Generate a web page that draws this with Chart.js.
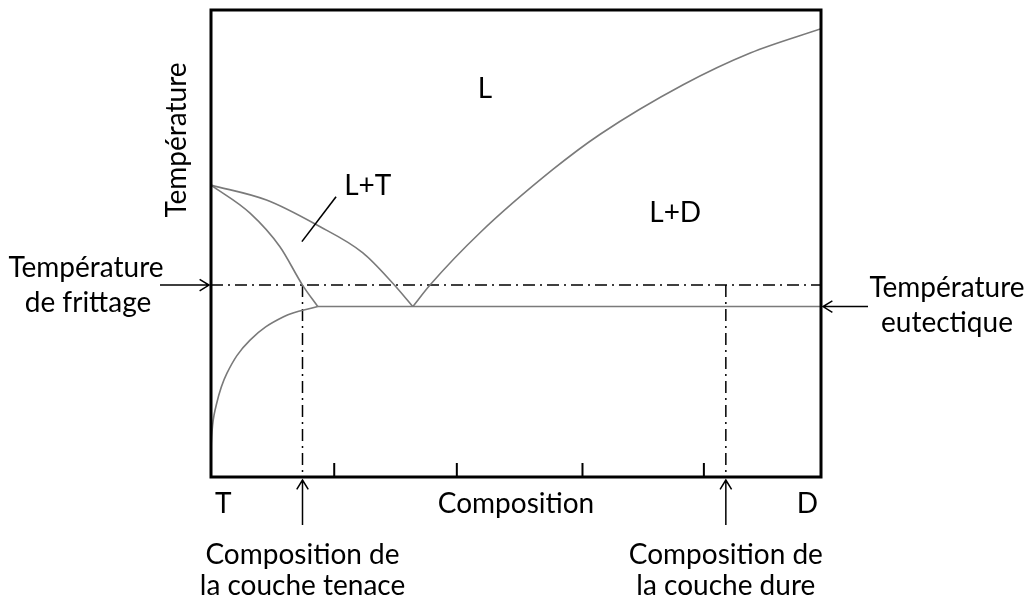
<!DOCTYPE html>
<html>
<head>
<meta charset="utf-8">
<script src="https://cdn.jsdelivr.net/npm/chart.js@4.4.0/dist/chart.umd.min.js"></script>
<style>
  body { margin: 0; background: #fff; }
  #wrap { width: 1028px; height: 604px; position: relative; }
</style>
</head>
<body>
<div id="wrap"><canvas id="diagram"></canvas></div>
<script>
// composition (0 = T, 100 = D) / temperature (0..100, arbitrary units)
const sinterTemp = 41.1
const eutecticTemp = 36.5
const eutecticComp = 33.1
const solidusEnd = 17.5
const toughComp = 15.0
const hardComp = 84.4
const tickComps = [20.2, 40.3, 60.9, 80.8]

const liquidusT = [[0, 62.5], [9.1, 59.3], [17.3, 54.0], [24.9, 48.0], [29.8, 41.5], [33.1, 36.5]]
const solidusT = [[0, 62.5], [6.4, 56.5], [11.3, 49.3], [15.0, 41.1], [17.5, 36.5]]
const solvusT = [[17.5, 36.5], [11.9, 34.3], [6.4, 29.3], [2.6, 22.2], [0.66, 14.3], [0.1, 8.6], [0, 4.1]]
const liquidusD = [[33.1, 36.5], [35.9, 41.1], [44.1, 52.3], [56.1, 65.9], [63.8, 73.4], [77.4, 84.0], [88.4, 90.8], [100, 96.0]]

const FONT = '28px Lato, "Open Sans", sans-serif'
const GREY = '#7a7a7a'
const DASHDOT = [12, 5, 2, 5]

const pts = arr => arr.map(p => ({x: p[0], y: p[1]}))

const curve = (arr, mono) => ({
    data: pts(arr),
    borderColor: GREY,
    borderWidth: 1.6,
    tension: 0.4,
    cubicInterpolationMode: mono ? 'monotone' : 'default',
    pointRadius: 0
})

const straight = (arr, color, dash, width) => ({
    data: pts(arr),
    borderColor: color,
    borderWidth: width || 1.5,
    borderDash: dash || [],
    tension: 0,
    pointRadius: 0
})

const datasets = [
    curve(liquidusT, true),
    curve(solidusT, true),
    curve(solvusT, false),
    curve(liquidusD, true),
    straight([[solidusEnd, eutecticTemp], [100, eutecticTemp]], GREY, [], 1.6),
    straight([[0, sinterTemp], [100, sinterTemp]], '#000', DASHDOT),
    straight([[toughComp, sinterTemp], [toughComp, 0]], '#000', DASHDOT),
    straight([[hardComp, sinterTemp], [hardComp, 0]], '#000', DASHDOT)
]
// small ticks on the composition axis
tickComps.forEach(c => datasets.push(straight([[c, 0], [c, 3]], '#000', [], 2)))

/*ARROWS*/
function arrow(ctx, x1, y1, x2, y2){
    const a = Math.atan2(y2 - y1, x2 - x1), L = 11, s = 0.55
    ctx.beginPath()
    ctx.moveTo(x1, y1); ctx.lineTo(x2, y2)
    ctx.moveTo(x2 - L * Math.cos(a - s), y2 - L * Math.sin(a - s))
    ctx.lineTo(x2, y2)
    ctx.lineTo(x2 - L * Math.cos(a + s), y2 - L * Math.sin(a + s))
    ctx.stroke()
}

const decor = {
    id: 'decor',
    afterDraw(chart){
        const ctx = chart.ctx, ca = chart.chartArea
        const xs = chart.scales.x, ys = chart.scales.y
        ctx.save()
        // frame
        ctx.strokeStyle = '#000'
        ctx.lineWidth = 3
        ctx.strokeRect(ca.left, ca.top, ca.right - ca.left, ca.bottom - ca.top)

        ctx.fillStyle = '#000'
        ctx.font = FONT
        ctx.textBaseline = 'alphabetic'

        // phase labels
        ctx.textAlign = 'center'
        ctx.fillText('L', xs.getPixelForValue(44.9), 98)
        ctx.fillText('L+T', xs.getPixelForValue(25.7), 195)
        ctx.fillText('L+D', xs.getPixelForValue(76.1), 222)

        // leader line for L+T
        ctx.lineWidth = 1.6
        ctx.beginPath()
        ctx.moveTo(xs.getPixelForValue(14.9), ys.getPixelForValue(50.4))
        ctx.lineTo(xs.getPixelForValue(20.5), ys.getPixelForValue(60.0))
        ctx.stroke()

        // axis texts
        const base = ca.bottom + 36
        ctx.textAlign = 'left'
        ctx.fillText('T', ca.left + 4, base)
        ctx.textAlign = 'right'
        ctx.fillText('D', ca.right - 3, base)
        ctx.textAlign = 'center'
        ctx.fillText('Composition', (ca.left + ca.right) / 2, base)

        ctx.save()
        ctx.translate(ca.left - 25, 140)
        ctx.rotate(-Math.PI / 2)
        ctx.fillText('Température', 0, 0)
        ctx.restore()

        // sintering temperature
        const ys1 = ys.getPixelForValue(sinterTemp)
        ctx.fillText('Température', 86, ys1 - 8)
        ctx.fillText('de frittage', 88, ys1 + 27)
        ctx.lineWidth = 1.5
        arrow(ctx, 160, ys1, ca.left - 2, ys1)

        // eutectic temperature
        const ye = ys.getPixelForValue(eutecticTemp)
        ctx.fillText('Température', 947, ye - 10)
        ctx.fillText('eutectique', 947, ye + 25)
        arrow(ctx, 868, ye, ca.right + 2, ye)

        // layer compositions
        ;[[toughComp, 'la couche tenace'], [hardComp, 'la couche dure']].forEach(([c, txt]) => {
            const x = xs.getPixelForValue(c)
            arrow(ctx, x, ca.bottom + 48, x, ca.bottom + 3)
            ctx.fillText('Composition de', x, ca.bottom + 87)
            ctx.fillText(txt, x, ca.bottom + 118)
        })
        ctx.restore()
    }
}

new Chart(document.getElementById('diagram'), {
    type: 'scatter',
    data: { datasets: datasets.map(d => Object.assign(d, {showLine: true, fill: false})) },
    options: {
        responsive: true,
        maintainAspectRatio: false,
        animation: false,
        layout: { padding: { left: 211, right: 207, top: 10, bottom: 127 } },
        scales: {
            x: { type: 'linear', min: 0, max: 100, display: false },
            y: { type: 'linear', min: 0, max: 100, display: false }
        },
        plugins: { legend: { display: false }, tooltip: { enabled: false } }
    },
    plugins: [decor]
})
</script>
</body>
</html>
